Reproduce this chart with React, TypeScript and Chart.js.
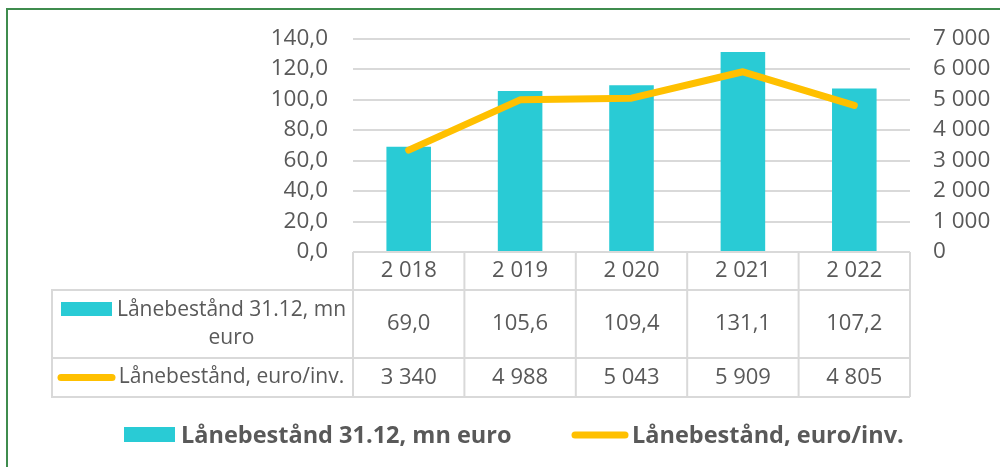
import React, { useEffect, useRef } from "react";
import { Chart, registerables } from "chart.js";

Chart.register(...registerables);

const years = ["2 018", "2 019", "2 020", "2 021", "2 022"];
const loanStock = [69.0, 105.6, 109.4, 131.1, 107.2];
const loanPerCapita = [3340, 4988, 5043, 5909, 4805];
const seriesNames = ["Lånebestånd 31.12, mn euro", "Lånebestånd, euro/inv."];
const tableLabelLines = ["Lånebestånd 31.12, mn", "euro"];

const leftMax = 140;
const leftStep = 20;
const rightMax = 7000;
const rightStep = 1000;

const CYAN = "#29CBD5";
const YELLOW = "#FFC000";
const TEXT = "#595959";
const GRID = "#D9D9D9";
const GREEN = "#3F8C4E";
const FONT = "'Open Sans', 'Noto Sans', sans-serif";

const fmt1 = (v: number) => v.toFixed(1).replace(".", ",");
const fmtThousands = (v: number) =>
  Math.round(v)
    .toString()
    .replace(/\B(?=(\d{3})+(?!\d))/g, " ");

const tablePlugin = {
  id: "dataTable",
  beforeDraw(chart: any) {
    const ctx = chart.ctx;
    ctx.save();
    ctx.fillStyle = "#ffffff";
    ctx.fillRect(0, 0, chart.width, chart.height);
    ctx.fillStyle = GREEN;
    ctx.fillRect(6, 8, chart.width - 6, 2);
    ctx.fillRect(6, 8, 2, chart.height - 8);
    ctx.restore();
  },
  afterDraw(chart: any) {
    const ctx = chart.ctx;
    const { left, right, bottom } = chart.chartArea;
    const xs = chart.scales.x;
    const n = years.length;
    const step = (right - left) / n;
    const hdrTop = bottom;
    const hdrBot = hdrTop + 38;
    const r1Bot = hdrBot + 68;
    const r2Bot = r1Bot + 39;
    const tableLeft = 52;
    ctx.save();
    ctx.strokeStyle = GRID;
    ctx.lineWidth = 2;
    const line = (x1: number, y1: number, x2: number, y2: number) => {
      ctx.beginPath();
      ctx.moveTo(x1, y1);
      ctx.lineTo(x2, y2);
      ctx.stroke();
    };
    line(left, hdrTop, right, hdrTop);
    line(tableLeft - 1, hdrBot, right, hdrBot);
    line(tableLeft - 1, r1Bot, right, r1Bot);
    line(tableLeft - 1, r2Bot, right, r2Bot);
    for (let i = 0; i <= n; i++) {
      const xb = left + i * step;
      line(xb, hdrTop, xb, r2Bot);
    }
    line(tableLeft, hdrBot, tableLeft, r2Bot);

    ctx.fillStyle = TEXT;
    ctx.font = `22px ${FONT}`;
    ctx.textAlign = "center";
    ctx.textBaseline = "middle";
    for (let i = 0; i < n; i++) {
      const cx = xs.getPixelForValue(i);
      ctx.fillText(years[i], cx, (hdrTop + hdrBot) / 2);
      ctx.fillText(fmt1(loanStock[i]), cx, (hdrBot + r1Bot) / 2);
      ctx.fillText(fmtThousands(loanPerCapita[i]), cx, (r1Bot + r2Bot) / 2);
    }
    // row labels
    ctx.font = `21px ${FONT}`;
    const textCenter = 231.5;
    ctx.fillStyle = CYAN;
    ctx.fillRect(61, hdrBot + 12, 51, 14);
    ctx.fillStyle = TEXT;
    ctx.fillText(tableLabelLines[0], textCenter, hdrBot + 20);
    ctx.fillText(tableLabelLines[1], textCenter, hdrBot + 48);
    ctx.strokeStyle = YELLOW;
    ctx.lineWidth = 7;
    ctx.lineCap = "round";
    line(61, (r1Bot + r2Bot) / 2, 112, (r1Bot + r2Bot) / 2);
    ctx.fillText(seriesNames[1], textCenter, (r1Bot + r2Bot) / 2);

    // bottom legend
    const ly = 435;
    ctx.fillStyle = CYAN;
    ctx.fillRect(124, ly - 8, 51, 15);
    ctx.fillStyle = TEXT;
    ctx.font = `bold 23.5px ${FONT}`;
    ctx.textAlign = "left";
    ctx.fillText(seriesNames[0], 181, ly + 1);
    ctx.strokeStyle = YELLOW;
    ctx.lineWidth = 7;
    line(575, ly, 625, ly);
    ctx.fillText(seriesNames[1], 632, ly + 1);
    ctx.restore();
  },
};

export default function App() {
  const ref = useRef<HTMLCanvasElement | null>(null);
  useEffect(() => {
    if (!ref.current) return;
    const chart = new Chart(ref.current, {
      type: "bar",
      data: {
        labels: years,
        datasets: [
          {
            type: "line",
            label: seriesNames[1],
            data: loanPerCapita,
            yAxisID: "y1",
            borderColor: YELLOW,
            backgroundColor: YELLOW,
            borderWidth: 7,
            pointRadius: 0,
            tension: 0,
            borderCapStyle: "round",
            borderJoinStyle: "round",
            order: 0,
          } as any,
          {
            type: "bar",
            label: seriesNames[0],
            data: loanStock,
            yAxisID: "y",
            backgroundColor: CYAN,
            categoryPercentage: 1,
            barPercentage: 0.4,
            order: 1,
          },
        ],
      },
      options: {
        responsive: false,
        animation: false,
        layout: { padding: { top: 38, bottom: 215, left: 0, right: 0 } },
        plugins: { legend: { display: false }, tooltip: { enabled: false } },
        scales: {
          x: { display: false, offset: true },
          y: {
            position: "left",
            min: 0,
            max: leftMax,
            ticks: {
              stepSize: leftStep,
              padding: 25,
              color: TEXT,
              font: { family: FONT, size: 22.5 },
              callback: (v: any) => fmt1(Number(v)),
            },
            grid: { color: GRID, lineWidth: 2, drawTicks: false },
            border: { display: false },
            afterFit: (s: any) => {
              s.width = 353;
            },
          },
          y1: {
            position: "right",
            min: 0,
            max: rightMax,
            ticks: {
              stepSize: rightStep,
              padding: 23,
              color: TEXT,
              font: { family: FONT, size: 22.5 },
              callback: (v: any) => fmtThousands(Number(v)),
            },
            grid: { display: false, drawTicks: false },
            border: { display: false },
            afterFit: (s: any) => {
              s.width = 90;
            },
          },
        },
      } as any,
      plugins: [tablePlugin],
    });
    return () => chart.destroy();
  }, []);
  return (
    <div style={{ position: "fixed", left: 0, top: 0, width: 1000, height: 467 }}>
      <canvas ref={ref} width={1000} height={467} style={{ display: "block" }} />
    </div>
  );
}
